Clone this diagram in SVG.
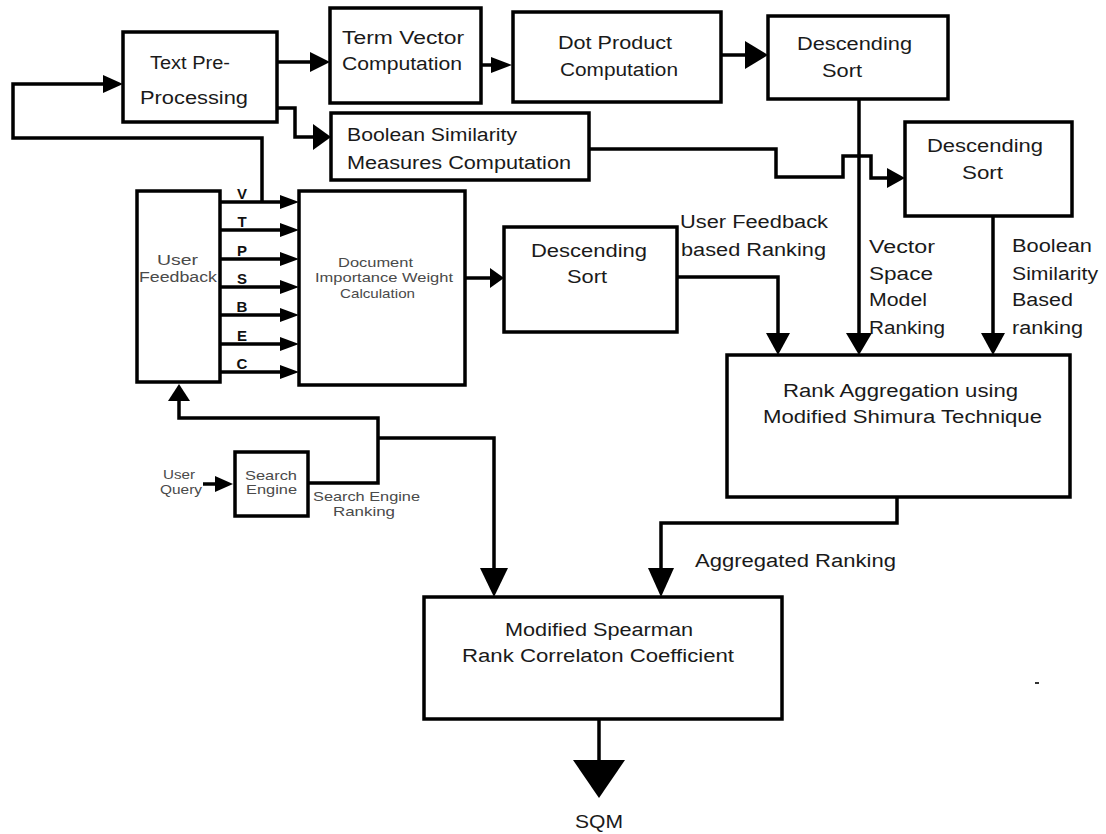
<svg xmlns="http://www.w3.org/2000/svg" width="1106" height="834" viewBox="0 0 1106 834">
<style>
.box{fill:#fff;stroke:#000;stroke-width:3.5}
.ln{fill:none;stroke:#000;stroke-width:3.5}
.ah{fill:#000;stroke:none}
text{font-family:"Liberation Sans",Arial,sans-serif;fill:#1a1a1a}
.t{font-size:18px}
.s{font-size:14px;fill:#4a4a4a}
.xs{font-size:13px;fill:#4a4a4a}
.b{font-size:15px;font-weight:bold;fill:#111;text-anchor:middle}
</style>
<rect width="1106" height="834" fill="#fff"/>

<g id="connectors">
  <line class="ln" x1="277" y1="62" x2="313" y2="62"/>
  <polygon class="ah" points="310,52 330,62 310,72"/>
  <line class="ln" x1="481" y1="65" x2="494" y2="65"/>
  <polygon class="ah" points="491,57 512,65 491,73"/>
  <line class="ln" x1="721" y1="55" x2="748" y2="55"/>
  <polygon class="ah" points="745,41 768,55 745,69"/>
  <polyline class="ln" points="262,202 262,138 13,138 13,84 106,84"/>
  <polygon class="ah" points="103,75 123,84 103,93"/>
  <polyline class="ln" points="277,108 295,108 295,137 316,137"/>
  <polygon class="ah" points="313,124 331,137 313,150"/>
  <polyline class="ln" points="589,149 776,149 776,177 843,177 843,156 871,156 871,178 890,178"/>
  <polygon class="ah" points="887,168 905,178 887,188"/>
  <line class="ln" x1="859" y1="99" x2="859" y2="336"/>
  <polygon class="ah" points="846,333 872,333 859,355"/>
  <line class="ln" x1="993" y1="216" x2="993" y2="336"/>
  <polygon class="ah" points="981,333 1005,333 993,355"/>
  <polyline class="ln" points="677,277 778,277 778,336"/>
  <polygon class="ah" points="766,333 790,333 778,355"/>
  <line class="ln" x1="465" y1="278" x2="492" y2="278"/>
  <polygon class="ah" points="490,268 504,278 490,288"/>
  <line class="ln" x1="220" y1="202" x2="283" y2="202"/>
  <polygon class="ah" points="280,195 299,202 280,209"/>
  <line class="ln" x1="220" y1="230" x2="283" y2="230"/>
  <polygon class="ah" points="280,223 299,230 280,237"/>
  <line class="ln" x1="220" y1="259" x2="283" y2="259"/>
  <polygon class="ah" points="280,252 299,259 280,266"/>
  <line class="ln" x1="220" y1="287" x2="283" y2="287"/>
  <polygon class="ah" points="280,280 299,287 280,294"/>
  <line class="ln" x1="220" y1="315" x2="283" y2="315"/>
  <polygon class="ah" points="280,308 299,315 280,322"/>
  <line class="ln" x1="220" y1="344" x2="283" y2="344"/>
  <polygon class="ah" points="280,337 299,344 280,351"/>
  <line class="ln" x1="220" y1="372" x2="283" y2="372"/>
  <polygon class="ah" points="280,365 299,372 280,379"/>
  <line class="ln" x1="203" y1="484" x2="218" y2="484"/>
  <polygon class="ah" points="215,476 233,484 215,492"/>
  <polyline class="ln" points="308,483 378,483 378,418 179,418 179,399"/>
  <polygon class="ah" points="168,401 190,401 179,384"/>
  <polyline class="ln" points="378,438 494,438 494,572"/>
  <polygon class="ah" points="480,568 508,568 494,597"/>
  <polyline class="ln" points="897,497 897,523 661,523 661,572"/>
  <polygon class="ah" points="648,568 674,568 661,597"/>
  <line class="ln" x1="599" y1="719" x2="599" y2="762"/>
  <polygon class="ah" points="573,760 625,760 599,798"/>
</g>

<g id="text-pre-processing">
  <rect class="box" x="123" y="32" width="154" height="90"/>
  <text class="t" x="150" y="69" textLength="80" lengthAdjust="spacingAndGlyphs">Text Pre-</text>
  <text class="t" x="140" y="104" textLength="108" lengthAdjust="spacingAndGlyphs">Processing</text>
</g>
<g id="term-vector">
  <rect class="box" x="330" y="8" width="151" height="95"/>
  <text class="t" x="342" y="44" textLength="122" lengthAdjust="spacingAndGlyphs">Term Vector</text>
  <text class="t" x="342" y="70" textLength="120" lengthAdjust="spacingAndGlyphs">Computation</text>
</g>
<g id="dot-product">
  <rect class="box" x="513" y="12" width="208" height="90"/>
  <text class="t" x="558" y="49" textLength="114" lengthAdjust="spacingAndGlyphs">Dot Product</text>
  <text class="t" x="560" y="76" textLength="118" lengthAdjust="spacingAndGlyphs">Computation</text>
</g>
<g id="descending-sort-1">
  <rect class="box" x="768" y="16" width="180" height="83"/>
  <text class="t" x="797" y="50" textLength="115" lengthAdjust="spacingAndGlyphs">Descending</text>
  <text class="t" x="822" y="77" textLength="40" lengthAdjust="spacingAndGlyphs">Sort</text>
</g>
<g id="boolean-similarity">
  <rect class="box" x="331" y="113" width="258" height="67"/>
  <text class="t" x="347" y="141" textLength="170" lengthAdjust="spacingAndGlyphs">Boolean Similarity</text>
  <text class="t" x="347" y="169" textLength="224" lengthAdjust="spacingAndGlyphs">Measures Computation</text>
</g>
<g id="descending-sort-2">
  <rect class="box" x="905" y="122" width="167" height="94"/>
  <text class="t" x="927" y="152" textLength="116" lengthAdjust="spacingAndGlyphs">Descending</text>
  <text class="t" x="962" y="179" textLength="41" lengthAdjust="spacingAndGlyphs">Sort</text>
</g>
<g id="user-feedback">
  <rect class="box" x="137" y="191" width="83" height="191"/>
  <text class="s" x="157" y="265" textLength="41" lengthAdjust="spacingAndGlyphs">User</text>
  <text class="s" x="139" y="282" textLength="78" lengthAdjust="spacingAndGlyphs">Feedback</text>
</g>
<g id="document-importance">
  <rect class="box" x="299" y="191" width="166" height="194"/>
  <text class="xs" x="338" y="267" textLength="75" lengthAdjust="spacingAndGlyphs">Document</text>
  <text class="xs" x="315" y="282" textLength="138" lengthAdjust="spacingAndGlyphs">Importance Weight</text>
  <text class="xs" x="340" y="298" textLength="75" lengthAdjust="spacingAndGlyphs">Calculation</text>
</g>
<g id="descending-sort-3">
  <rect class="box" x="504" y="227" width="173" height="105"/>
  <text class="t" x="531" y="257" textLength="116" lengthAdjust="spacingAndGlyphs">Descending</text>
  <text class="t" x="567" y="283" textLength="40" lengthAdjust="spacingAndGlyphs">Sort</text>
</g>
<g id="search-engine">
  <rect class="box" x="235" y="452" width="73" height="64"/>
  <text class="xs" x="245" y="480" textLength="52" lengthAdjust="spacingAndGlyphs">Search</text>
  <text class="xs" x="246" y="494" textLength="51" lengthAdjust="spacingAndGlyphs">Engine</text>
</g>
<g id="rank-aggregation">
  <rect class="box" x="727" y="355" width="343" height="142"/>
  <text class="t" x="783" y="397" textLength="235" lengthAdjust="spacingAndGlyphs">Rank Aggregation using</text>
  <text class="t" x="763" y="423" textLength="279" lengthAdjust="spacingAndGlyphs">Modified Shimura Technique</text>
</g>
<g id="spearman">
  <rect class="box" x="424" y="597" width="358" height="122"/>
  <text class="t" x="505" y="636" textLength="188" lengthAdjust="spacingAndGlyphs">Modified Spearman</text>
  <text class="t" x="462" y="662" textLength="272" lengthAdjust="spacingAndGlyphs">Rank Correlaton Coefficient</text>
</g>

<g id="labels">
  <text class="b" x="242" y="199">V</text>
  <text class="b" x="242" y="227">T</text>
  <text class="b" x="242" y="256">P</text>
  <text class="b" x="242" y="284">S</text>
  <text class="b" x="242" y="312">B</text>
  <text class="b" x="242" y="341">E</text>
  <text class="b" x="242" y="369">C</text>
  <text class="t" x="680" y="228" textLength="148" lengthAdjust="spacingAndGlyphs">User Feedback</text>
  <text class="t" x="681" y="256" textLength="145" lengthAdjust="spacingAndGlyphs">based Ranking</text>
  <text class="t" x="869" y="253" textLength="66" lengthAdjust="spacingAndGlyphs">Vector</text>
  <text class="t" x="869" y="280" textLength="64" lengthAdjust="spacingAndGlyphs">Space</text>
  <text class="t" x="869" y="306" textLength="58" lengthAdjust="spacingAndGlyphs">Model</text>
  <text class="t" x="869" y="334" textLength="76" lengthAdjust="spacingAndGlyphs">Ranking</text>
  <text class="t" x="1012" y="252" textLength="80" lengthAdjust="spacingAndGlyphs">Boolean</text>
  <text class="t" x="1012" y="280" textLength="86" lengthAdjust="spacingAndGlyphs">Similarity</text>
  <text class="t" x="1012" y="306" textLength="61" lengthAdjust="spacingAndGlyphs">Based</text>
  <text class="t" x="1012" y="334" textLength="71" lengthAdjust="spacingAndGlyphs">ranking</text>
  <text class="xs" x="163" y="479" textLength="32" lengthAdjust="spacingAndGlyphs">User</text>
  <text class="xs" x="160" y="494" textLength="42" lengthAdjust="spacingAndGlyphs">Query</text>
  <text class="xs" x="313" y="501" textLength="107" lengthAdjust="spacingAndGlyphs">Search Engine</text>
  <text class="xs" x="333" y="516" textLength="62" lengthAdjust="spacingAndGlyphs">Ranking</text>
  <text class="t" x="695" y="567" textLength="201" lengthAdjust="spacingAndGlyphs">Aggregated Ranking</text>
  <text class="t" x="575" y="828" textLength="48" lengthAdjust="spacingAndGlyphs">SQM</text>
</g>
<rect x="1035" y="682" width="4" height="2" fill="#333"/>
</svg>
